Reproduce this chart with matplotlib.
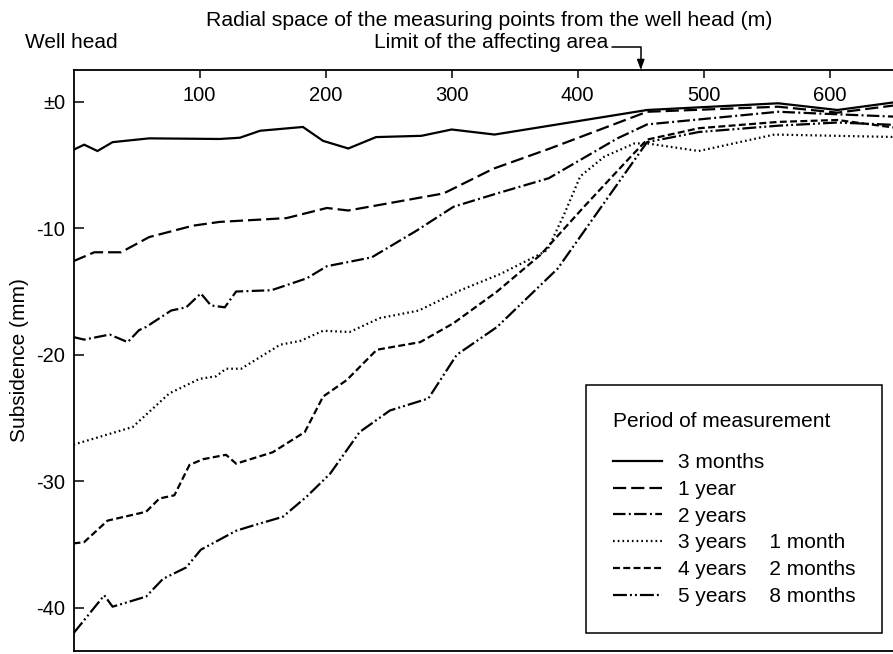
import matplotlib
matplotlib.use("Agg")
import matplotlib.pyplot as plt

plt.rcParams['font.family'] = ['Liberation Sans', 'DejaVu Sans']
plt.rcParams['lines.scale_dashes'] = False

# ---- data ----
x_3m = [0, 8.5, 19, 31, 60, 116, 132, 148, 182, 198, 218, 240, 276, 300, 334, 455, 559, 606, 655]
y_3m = [-3.8, -3.4, -3.9, -3.2, -2.9, -2.95, -2.85, -2.3, -2.0, -3.1, -3.7, -2.8, -2.7, -2.2, -2.6, -0.66, -0.13, -0.66, 0.0]

x_1y = [0, 16.5, 37.7, 60, 94.7, 116, 169, 201, 218, 293.6, 333, 378, 455, 559, 606, 655]
y_1y = [-12.6, -11.9, -11.9, -10.7, -9.8, -9.5, -9.2, -8.4, -8.6, -7.25, -5.3, -3.7, -0.8, -0.4, -0.87, -0.25]

x_2y = [0, 8.5, 28.7, 43, 52, 57.6, 77.5, 89.4, 101, 109, 120, 129, 157, 185, 201, 219, 236.6, 272, 301.5, 336, 377, 431.5, 455, 559, 606, 655]
y_2y = [-18.6, -18.8, -18.4, -19.0, -18.05, -17.8, -16.5, -16.25, -15.15, -16.1, -16.25, -15.0, -14.9, -13.96, -13.0, -12.65, -12.3, -10.2, -8.3, -7.25, -6.05, -2.9, -1.8, -0.8, -1.0, -1.2]

x_3y1m = [0, 47, 76, 100, 113, 121, 133, 164, 180, 198, 219, 243, 274, 307, 339, 371, 376, 389, 402, 421, 445, 455, 496, 556, 655]
y_3y1m = [-27.1, -25.7, -23.05, -21.9, -21.7, -21.1, -21.1, -19.2, -18.9, -18.1, -18.2, -17.1, -16.5, -14.9, -13.6, -12.0, -11.7, -8.95, -5.9, -4.35, -3.3, -3.3, -3.9, -2.6, -2.8]

x_4y2m = [0, 8.4, 27, 57.6, 68.2, 80, 92, 102.6, 121, 129, 158, 183.5, 198, 216.7, 240.6, 275, 301.5, 336, 370.5, 405, 442, 455, 496, 559, 606, 655]
y_4y2m = [-34.9, -34.8, -33.1, -32.4, -31.35, -31.1, -28.7, -28.25, -27.9, -28.6, -27.7, -26.1, -23.3, -22.0, -19.6, -19.0, -17.5, -15.0, -12.1, -8.3, -4.35, -3.0, -2.1, -1.6, -1.45, -2.1]

x_5y8m = [0, 24.4, 31, 57.6, 71, 89.4, 101, 129, 142, 166, 185, 203.5, 227, 251, 281.5, 304, 336, 384, 455, 496, 559, 606, 655]
y_5y8m = [-42.0, -39.0, -39.9, -39.1, -37.7, -36.8, -35.4, -33.9, -33.5, -32.8, -31.2, -29.4, -26.1, -24.4, -23.45, -20.0, -17.8, -13.2, -3.2, -2.4, -1.9, -1.65, -1.85]

series_labels = ["3 months", "1 year", "2 years", "3 years    1 month", "4 years    2 months", "5 years    8 months"]

x_ticks = [100, 200, 300, 400, 500, 600]
x_tick_labels = ["100", "200", "300", "400", "500", "600"]
y_ticks = [0, -10, -20, -30, -40]
y_tick_labels = ["\u00b10", "-10", "-20", "-30", "-40"]
limit_x = 450

# ---- figure ----
W, H = 893, 654
fig = plt.figure(figsize=(W / 100, H / 100), dpi=100)
ax = fig.add_axes([73.5 / W, 1 - 651 / H, 1 - 73.5 / W + 0.002, (651 - 70) / H])

styles = [
    dict(linestyle='-'),
    dict(dashes=(9.5, 3.6)),
    dict(dashes=(9.0, 2.4, 1.4, 2.4)),
    dict(dashes=(1.2, 2.2)),
    dict(dashes=(5.0, 2.4)),
    dict(dashes=(10.0, 2.2, 1.4, 2.2, 1.4, 2.2)),
]
xs = [x_3m, x_1y, x_2y, x_3y1m, x_4y2m, x_5y8m]
ys = [y_3m, y_1y, y_2y, y_3y1m, y_4y2m, y_5y8m]
for x, y, st, lab in zip(xs, ys, styles, series_labels):
    ax.plot(x, y, color='black', lw=1.6, label=lab, solid_joinstyle='miter', **st)

ax.set_xlim(0, 651.5)
ax.set_ylim(-43.4, 2.5)

ax.spines['right'].set_visible(False)
for s in ['left', 'top', 'bottom']:
    ax.spines[s].set_linewidth(1.3)

ax.xaxis.tick_top()
ax.set_xticks(x_ticks, labels=x_tick_labels)
ax.tick_params(axis='x', direction='in', length=6, width=1.1, pad=-25, labelsize=14.5)
ax.set_yticks(y_ticks, labels=y_tick_labels)
ax.tick_params(axis='y', direction='in', length=7, width=1.1, pad=6, labelsize=14.5)
ax.set_ylabel("Subsidence (mm)", fontsize=15, labelpad=5)

fig.text(489 / W, 1 - 20 / H, "Radial space of the measuring points from the well head (m)",
         ha='center', va='center', fontsize=15.3)
fig.text(25 / W, 1 - 43 / H, "Well head", ha='left', va='center', fontsize=15)
fig.text(608 / W, 1 - 43 / H, "Limit of the affecting area", ha='right', va='center', fontsize=15)

ax.annotate("", xy=(limit_x, 1.0), xycoords=('data', 'axes fraction'),
            xytext=(-20.5, 16.8), textcoords='offset points',
            arrowprops=dict(arrowstyle='-|>,head_length=0.6,head_width=0.22', color='black', lw=1.1,
                            shrinkA=0, shrinkB=0,
                            connectionstyle='angle,angleA=0,angleB=90,rad=0'),
            annotation_clip=False)

leg = ax.legend(loc='upper left', bbox_to_anchor=(586 / W, 1 - 385 / H), bbox_transform=fig.transFigure,
                title="Period of measurement", fontsize=15, title_fontsize=15,
                frameon=True, fancybox=False, edgecolor='black', framealpha=1,
                handlelength=2.35, handletextpad=0.75, labelspacing=0.37, borderpad=1.3,
                borderaxespad=0)
leg.get_frame().set_linewidth(1.1)
leg._legend_box.align = 'left'
try:
    leg._legend_box.sep = 16
except Exception:
    pass

fig.savefig("out.png", dpi=100)
